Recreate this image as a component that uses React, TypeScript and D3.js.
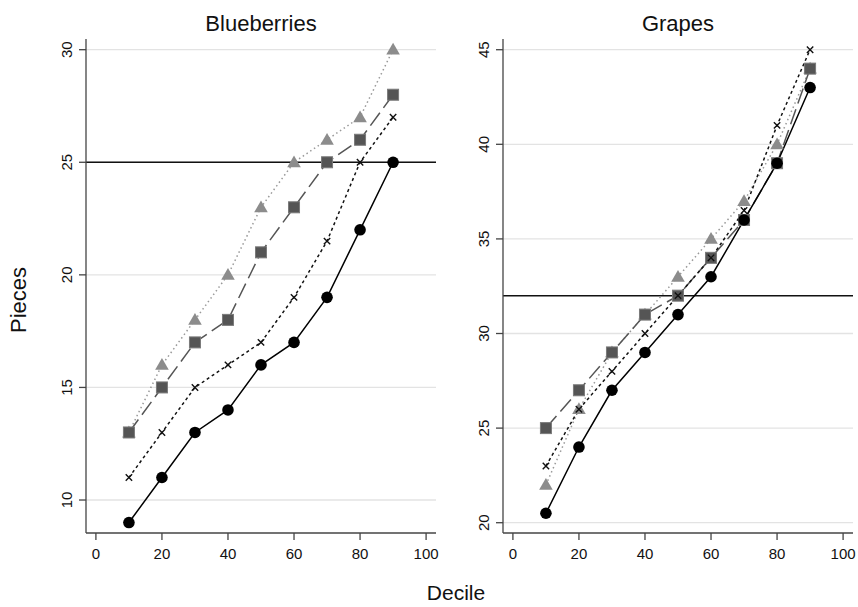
import React from 'react'
import * as d3 from 'd3'

// deciles on the x axis
const deciles = [10, 20, 30, 40, 50, 60, 70, 80, 90]

// Blueberries series
const blueCircle = [9, 11, 13, 14, 16, 17, 19, 22, 25]
const blueCross = [11, 13, 15, 16, 17, 19, 21.5, 25, 27]
const blueSquare = [13, 15, 17, 18, 21, 23, 25, 26, 28]
const blueTriangle = [13, 16, 18, 20, 23, 25, 26, 27, 30]

// Grapes series
const grapeCircle = [20.5, 24, 27, 29, 31, 33, 36, 39, 43]
const grapeCross = [23, 26, 28, 30, 32, 34, 36.5, 41, 45]
const grapeSquare = [25, 27, 29, 31, 32, 34, 36, 39, 44]
const grapeTriangle = [22, 26, 29, 31, 33, 35, 37, 40, 44]

const xTicks = [0, 20, 40, 60, 80, 100]
const blueYTicks = [10, 15, 20, 25, 30]
const grapeYTicks = [20, 25, 30, 35, 40, 45]

const W = 858
const H = 607
const FONT = '"Liberation Sans", Arial, sans-serif'

type SeriesKey = 'circle' | 'cross' | 'square' | 'triangle'

const styles: Record<SeriesKey, { stroke: string; dash: string | undefined; width: number }> = {
  circle: { stroke: '#000', dash: undefined, width: 1.5 },
  cross: { stroke: '#111', dash: '3,3', width: 1.5 },
  square: { stroke: '#555', dash: '16,6', width: 1.5 },
  triangle: { stroke: '#999', dash: '1.5,3', width: 1.5 },
}

interface PanelProps {
  title: string
  left: number
  right: number
  yDomain: [number, number]
  yTicks: number[]
  refLine: number
  series: { key: SeriesKey; values: number[] }[]
}

function Marker({ kind, x, y }: { kind: SeriesKey; x: number; y: number }) {
  if (kind === 'circle') return <circle cx={x} cy={y} r={5.8} fill="#000" />
  if (kind === 'square')
    return <rect x={x - 5.5} y={y - 5.5} width={11} height={11} fill="#555" stroke="#7a7a7a" strokeWidth={1} />
  if (kind === 'triangle') {
    const sym = d3.symbol().type(d3.symbolTriangle).size(80)()
    return <path d={sym as string} transform={`translate(${x},${y + 1})`} fill="#8c8c8c" />
  }
  const s = 3.2
  return (
    <path
      d={`M${x - s},${y - s}L${x + s},${y + s}M${x - s},${y + s}L${x + s},${y - s}`}
      stroke="#111"
      strokeWidth={1.4}
    />
  )
}

function Panel({ title, left, right, yDomain, yTicks, refLine, series }: PanelProps) {
  const top = 39
  const bottom = 533
  const x = d3.scaleLinear().domain([-3, 103]).range([left, right])
  const y = d3.scaleLinear().domain(yDomain).range([bottom, top])
  const line = d3
    .line<number>()
    .x((_, i) => x(deciles[i]))
    .y((d) => y(d))

  return (
    <g>
      <text x={(left + right) / 2} y={31} textAnchor="middle" fontSize={22} fontFamily={FONT} fill="#111">
        {title}
      </text>
      {/* gridlines */}
      {yTicks.map((t) => (
        <line key={t} x1={left} x2={right} y1={y(t)} y2={y(t)} stroke="#e3e3e3" strokeWidth={1.3} />
      ))}
      {/* reference line */}
      <line x1={left} x2={right} y1={y(refLine)} y2={y(refLine)} stroke="#111" strokeWidth={1.5} />
      {/* axes */}
      <line x1={left} x2={left} y1={top} y2={bottom} stroke="#444" strokeWidth={1.3} />
      <line x1={left} x2={right} y1={bottom} y2={bottom} stroke="#444" strokeWidth={1.3} />
      {yTicks.map((t) => (
        <g key={t}>
          <line x1={left - 7} x2={left} y1={y(t)} y2={y(t)} stroke="#444" strokeWidth={1.3} />
          <text
            transform={`translate(${left - 14},${y(t)}) rotate(-90)`}
            textAnchor="middle"
            fontSize={15}
            fontFamily={FONT}
            fill="#111"
          >
            {t}
          </text>
        </g>
      ))}
      {xTicks.map((t) => (
        <g key={t}>
          <line x1={x(t)} x2={x(t)} y1={bottom} y2={bottom + 7} stroke="#444" strokeWidth={1.3} />
          <text x={x(t)} y={559} textAnchor="middle" fontSize={15} fontFamily={FONT} fill="#111">
            {t}
          </text>
        </g>
      ))}
      {/* series lines */}
      {series.map((s) => (
        <path
          key={s.key}
          d={line(s.values) as string}
          fill="none"
          stroke={styles[s.key].stroke}
          strokeWidth={styles[s.key].width}
          strokeDasharray={styles[s.key].dash}
        />
      ))}
      {/* markers */}
      {series.map((s) =>
        s.values.map((v, i) => <Marker key={s.key + i} kind={s.key} x={x(deciles[i])} y={y(v)} />)
      )}
    </g>
  )
}

export default function App() {
  return (
    <svg
      width={W}
      height={H}
      style={{ position: 'absolute', left: 0, top: 0, background: '#fff' }}
    >
      <rect width={W} height={H} fill="#fff" />
      <Panel
        title="Blueberries"
        left={86}
        right={436}
        yDomain={[8.535, 30.475]}
        yTicks={blueYTicks}
        refLine={25}
        series={[
          { key: 'triangle', values: blueTriangle },
          { key: 'square', values: blueSquare },
          { key: 'cross', values: blueCross },
          { key: 'circle', values: blueCircle },
        ]}
      />
      <Panel
        title="Grapes"
        left={503}
        right={853}
        yDomain={[19.456, 45.566]}
        yTicks={grapeYTicks}
        refLine={32}
        series={[
          { key: 'triangle', values: grapeTriangle },
          { key: 'square', values: grapeSquare },
          { key: 'cross', values: grapeCross },
          { key: 'circle', values: grapeCircle },
        ]}
      />
      <text
        transform="translate(26,300) rotate(-90)"
        textAnchor="middle"
        fontSize={22}
        fontFamily={FONT}
        fill="#111"
      >
        Pieces
      </text>
      <text x={456} y={600} textAnchor="middle" fontSize={21} fontFamily={FONT} fill="#111">
        Decile
      </text>
    </svg>
  )
}
